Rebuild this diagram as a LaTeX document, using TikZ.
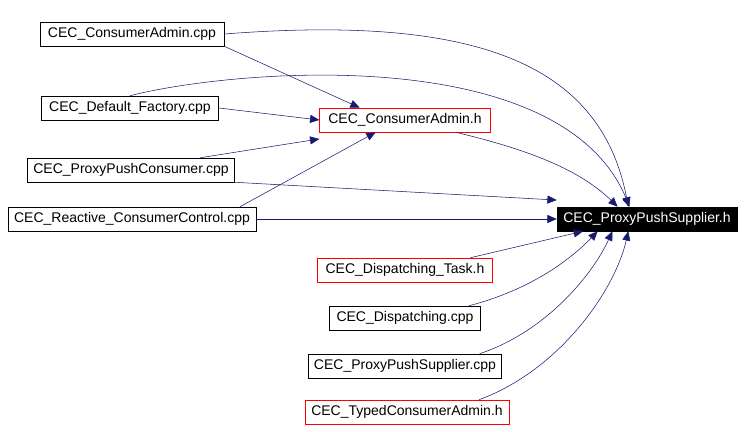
\documentclass[tikz,border=0pt]{standalone}
\usepackage{fontspec}
\setmainfont{Liberation Sans}
\usetikzlibrary{arrows.meta}
\definecolor{edgeblue}{RGB}{25,25,112}
\tikzset{
  file/.style={draw=black, fill=white, inner sep=0pt, minimum height=18pt, font=\fontsize{10.5}{12}\selectfont},
  redfile/.style={file, draw=red},
  dep/.style={draw=edgeblue, -{Triangle[length=7pt,width=6pt]}},
}
\begin{document}
\begin{tikzpicture}[x=0.75pt, y=-0.75pt]
    \useasboundingbox (0,0) rectangle (744,432);

    \node[file, minimum width=138pt] (cadmcpp) at (132,34) {CEC\_ConsumerAdmin.cpp};
    \node[file, minimum width=133pt] (factory) at (130,108) {CEC\_Default\_Factory.cpp};
    \node[redfile, minimum width=128pt] (cadmh) at (405,120) {CEC\_ConsumerAdmin.h};
    \node[file, minimum width=155pt] (ppccpp) at (131,170) {CEC\_ProxyPushConsumer.cpp};
    \node[file, minimum width=186pt] (reactive) at (132,219) {CEC\_Reactive\_ConsumerControl.cpp};
    \node[file, fill=black, text=white, minimum width=135pt] (ppsh) at (647,219) {CEC\_ProxyPushSupplier.h};
    \node[redfile, minimum width=131pt] (disptask) at (405,270) {CEC\_Dispatching\_Task.h};
    \node[file, minimum width=113pt] (dispcpp) at (405,318) {CEC\_Dispatching.cpp};
    \node[file, minimum width=145pt] (ppscpp) at (405,366) {CEC\_ProxyPushSupplier.cpp};
    \node[redfile, minimum width=153pt] (typed) at (407,412) {CEC\_TypedConsumerAdmin.h};

    % edges to the header
    \draw[dep] (cadmcpp.east) .. controls (470,15) and (600,60) .. ([xshift=-14pt]ppsh.north);
    \draw[dep] (factory.north) .. controls (230,70) and (560,40) .. ([xshift=-13pt]ppsh.north);
    \draw[dep] (cadmcpp.south east) -- ([xshift=-34pt]cadmh.north);
    \draw[dep] (factory.east) -- (cadmh.west);
    \draw[dep] ([xshift=52pt]ppccpp.north) -- ([yshift=-5pt]cadmh.south west);
    \draw[dep] ([xshift=81pt]reactive.north) -- ([xshift=-22pt]cadmh.south);
    \draw[dep] (ppccpp.south east) -- ([yshift=5pt]ppsh.north west);
    \draw[dep] (reactive.east) -- (ppsh.west);
    \draw[dep] ([xshift=38pt]cadmh.south) .. controls (530,150) and (580,170) .. ([xshift=-22pt]ppsh.north);
    \draw[dep] ([xshift=49pt]disptask.north) -- ([xshift=-48pt]ppsh.south);
    \draw[dep] ([xshift=48pt]dispcpp.north) .. controls (530,290) and (570,260) .. ([xshift=-37pt]ppsh.south);
    \draw[dep] ([xshift=56pt]ppscpp.north) .. controls (550,330) and (595,270) .. ([xshift=-26pt]ppsh.south);
    \draw[dep] ([xshift=54pt]typed.north) .. controls (560,370) and (615,290) .. ([xshift=-14pt]ppsh.south);
\end{tikzpicture}
\end{document}
